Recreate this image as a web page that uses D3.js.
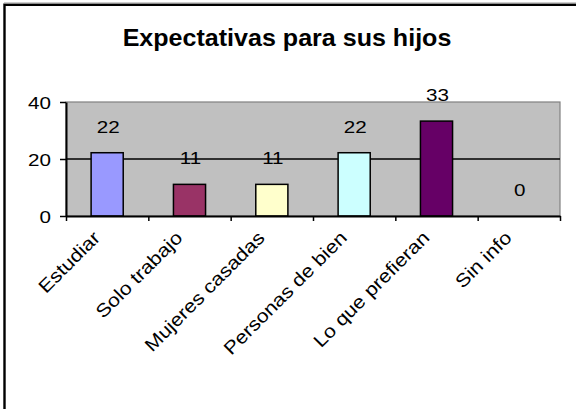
<!DOCTYPE html>
<meta charset="utf-8">
<head>
    <script src="https://d3js.org/d3.v7.min.js"></script>
    <style>
        body { margin: 0; background: #fff; }
        text { font-family: "Liberation Sans", Arial, sans-serif; fill: #000; }
        .tick line, .domain { stroke: #000; }
    </style>
    <title>Expectativas para sus hijos</title>
</head>
<body>
<svg id="chart" width="576" height="409"></svg>

<script>

    var title = "Expectativas para sus hijos";
    var categories = ["Estudiar", "Solo trabajo", "Mujeres casadas", "Personas de bien", "Lo que prefieran", "Sin info"];
    var values = [22.2, 11.1, 11.1, 22.2, 33.3, 0];
    var barColors = ["#9999FF", "#993366", "#FFFFCC", "#CCFFFF", "#660066", "#FF8080"];
    var yTicks = [0, 20, 40];

    var svg = d3.select("#chart"),
        plot = {left: 66, right: 560, top: 102, bottom: 216},
        stretch = 1.25; // small text in the original is drawn wider than normal

    // outer frame (only top and left edges are visible in the crop)
    svg.append("path")
        .attr("d", "M4.5,409V4.8H576")
        .attr("fill", "none")
        .attr("stroke", "#000")
        .attr("stroke-width", 2.4);
    svg.append("line")
        .attr("x1", 4).attr("x2", 576).attr("y1", 3).attr("y2", 3)
        .attr("stroke", "#999").attr("stroke-width", 1);

    svg.append("text")
        .attr("transform", "translate(287,46) scale(1.09,1)")
        .attr("text-anchor", "middle")
        .style("font-size", "23px")
        .style("font-weight", "bold")
        .text(title);

    var x = d3.scaleBand()
        .domain(categories)
        .range([plot.left, plot.right])
        .paddingInner(0.61)
        .paddingOuter(0.305);

    var y = d3.scaleLinear()
        .domain([0, 40])
        .range([plot.bottom, plot.top]);

    // category boundaries for the x-axis ticks
    var xb = d3.scaleLinear()
        .domain([0, categories.length])
        .range([plot.left, plot.right]);

    var bars = values.map(function (v, i) {
        return {cat: categories[i], value: v, color: barColors[i]};
    });

    svg.append("rect")
        .attr("x", plot.left)
        .attr("y", plot.top)
        .attr("width", plot.right - plot.left)
        .attr("height", plot.bottom - plot.top)
        .attr("fill", "#C0C0C0")
        .attr("stroke", "#808080")
        .attr("stroke-width", 1.2);

    svg.selectAll(".grid")
        .data(yTicks.filter(function (d) { return d > 0 && d < 40; }))
        .enter().append("line")
        .attr("class", "grid")
        .attr("x1", plot.left).attr("x2", plot.right)
        .attr("y1", function (d) { return y(d); })
        .attr("y2", function (d) { return y(d); })
        .attr("stroke", "#000")
        .attr("stroke-width", 1.5);

    svg.selectAll(".bar")
        .data(bars.filter(function (d) { return d.value > 0; }))
        .enter().append("rect")
        .attr("class", "bar")
        .attr("x", function (d) { return x(d.cat); })
        .attr("y", function (d) { return y(d.value); })
        .attr("width", x.bandwidth())
        .attr("height", function (d) { return y(0) - y(d.value); })
        .attr("fill", function (d) { return d.color; })
        .attr("stroke", "#000")
        .attr("stroke-width", 1.5);

    // y axis
    var yAxis = svg.append("g")
        .attr("transform", "translate(" + plot.left + ",0)")
        .call(d3.axisLeft(y).tickValues(yTicks).tickSize(6).tickSizeOuter(0).tickPadding(6));
    yAxis.select(".domain").attr("stroke-width", 2);
    yAxis.selectAll(".tick line").attr("stroke-width", 1.5);
    yAxis.selectAll(".tick text")
        .attr("dy", null)
        .attr("y", 6.5)
        .attr("transform", "scale(" + stretch + ",1)")
        .style("font-size", "16.5px")
        .style("font-family", "'Liberation Sans', Arial, sans-serif");

    // x axis
    var xAxis = svg.append("g")
        .attr("transform", "translate(0," + plot.bottom + ")")
        .call(d3.axisBottom(xb).tickValues(d3.range(categories.length + 1)).tickSize(5).tickSizeOuter(0).tickFormat(""));
    xAxis.select(".domain").attr("stroke-width", 2);
    xAxis.selectAll(".tick line").attr("stroke-width", 1.5);

    // value labels
    svg.selectAll(".value")
        .data(bars)
        .enter().append("text")
        .attr("class", "value")
        .attr("transform", function (d) {
            return "translate(" + (x(d.cat) + x.bandwidth() / 2 + 1) + "," + (y(d.value) - 20) + ") scale(" + stretch + ",1)";
        })
        .attr("text-anchor", "middle")
        .style("font-size", "16.5px")
        .text(function (d) { return d3.format(".0f")(d.value); });

    // rotated category labels
    svg.selectAll(".cat")
        .data(categories)
        .enter().append("text")
        .attr("class", "cat")
        .attr("transform", function (d) {
            return "translate(" + (x(d) + x.bandwidth() / 2 - 6) + "," + (plot.bottom + 23) + ") rotate(-45) scale(1.15,1)";
        })
        .attr("text-anchor", "end")
        .style("font-size", "18.5px")
        .text(function (d) { return d; });

</script>
</body>
